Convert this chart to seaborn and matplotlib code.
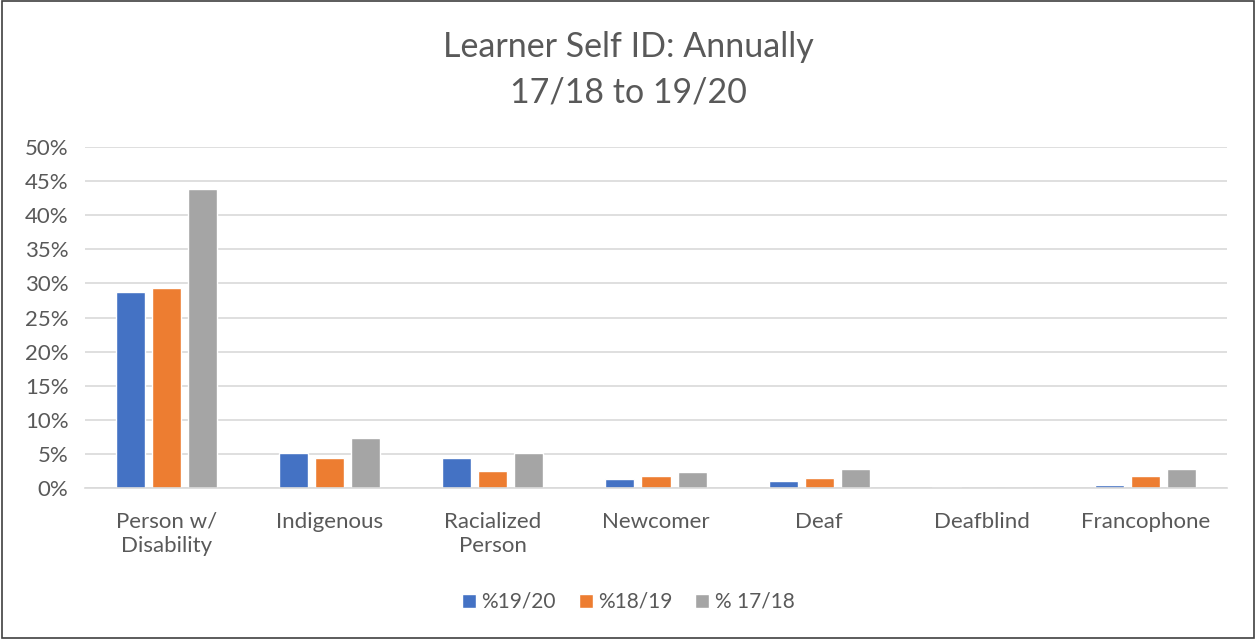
import matplotlib
matplotlib.use("Agg")
import matplotlib.pyplot as plt
import seaborn as sns
import pandas as pd
from matplotlib.patches import Rectangle
from matplotlib.ticker import PercentFormatter

categories = ["Person w/\nDisability", "Indigenous", "Racialized\nPerson", "Newcomer",
              "Deaf", "Deafblind", "Francophone"]
series_names = ["%19/20", "%18/19", "% 17/18"]
vals_1920 = [28.7, 5.1, 4.35, 1.25, 1.0, 0.2, 0.5]
vals_1819 = [29.3, 4.35, 2.5, 1.75, 1.4, 0.0, 1.8]
vals_1718 = [43.9, 7.4, 5.1, 2.3, 2.75, 0.0, 2.75]
colors = ["#4472C4", "#ED7D31", "#A5A5A5"]
yticks = [0, 5, 10, 15, 20, 25, 30, 35, 40, 45, 50]

rows = []
for name, vals in zip(series_names, [vals_1920, vals_1819, vals_1718]):
    for c, v in zip(categories, vals):
        rows.append({"cat": c, "series": name, "val": v})
df = pd.DataFrame(rows)

sns.set_theme(style="white")
plt.rcParams["font.family"] = ["Lato", "DejaVu Sans"]
txt = "#595959"

fig = plt.figure(figsize=(12.56, 6.39), dpi=100)
ax = fig.add_axes([85/1256, 1 - 488/639, (1227-85)/1256, (488-147)/639])
sns.barplot(data=df, x="cat", y="val", hue="series", order=categories,
            hue_order=series_names, palette=colors, width=0.663, gap=0.195,
            saturation=1, ax=ax, legend=True)

ax.set_ylim(0, 50)
ax.set_xlim(-0.5, len(categories) - 0.5)
ax.set_yticks(yticks)
ax.yaxis.set_major_formatter(PercentFormatter(decimals=0))
ax.grid(axis="y", color="#D9D9D9", linewidth=1.2)
ax.set_axisbelow(True)
for s in ["top", "right", "left"]:
    ax.spines[s].set_visible(False)
ax.spines["bottom"].set_color("#D9D9D9")
ax.spines["bottom"].set_linewidth(1.2)
ax.tick_params(axis="both", length=0, labelsize=16, labelcolor=txt)
ax.tick_params(axis="y", pad=12)
ax.tick_params(axis="x", pad=17)
for lbl in ax.get_xticklabels():
    lbl.set_linespacing(1.25)
ax.set_xlabel("")
ax.set_ylabel("")

fig.text(0.5, 1 - 47/639, "Learner Self ID: Annually", ha="center", va="center",
         fontsize=24.5, color=txt)
fig.text(0.5, 1 - 93/639, "17/18 to 19/20", ha="center", va="center",
         fontsize=24.5, color=txt)

handles, labels = ax.get_legend_handles_labels()
ax.legend_.remove()
fig.legend(handles, labels, loc="center", bbox_to_anchor=(0.5, 1 - 602/639), ncol=3,
           frameon=False, fontsize=15, labelcolor=txt, handlelength=0.68,
           handleheight=0.68, handletextpad=0.25, columnspacing=1.1)

fig.patches.append(Rectangle((0.0015, 0.002), 0.997, 0.996, transform=fig.transFigure,
                             fill=False, edgecolor="#404040", linewidth=1.2))

fig.savefig("out.png", dpi=100)
